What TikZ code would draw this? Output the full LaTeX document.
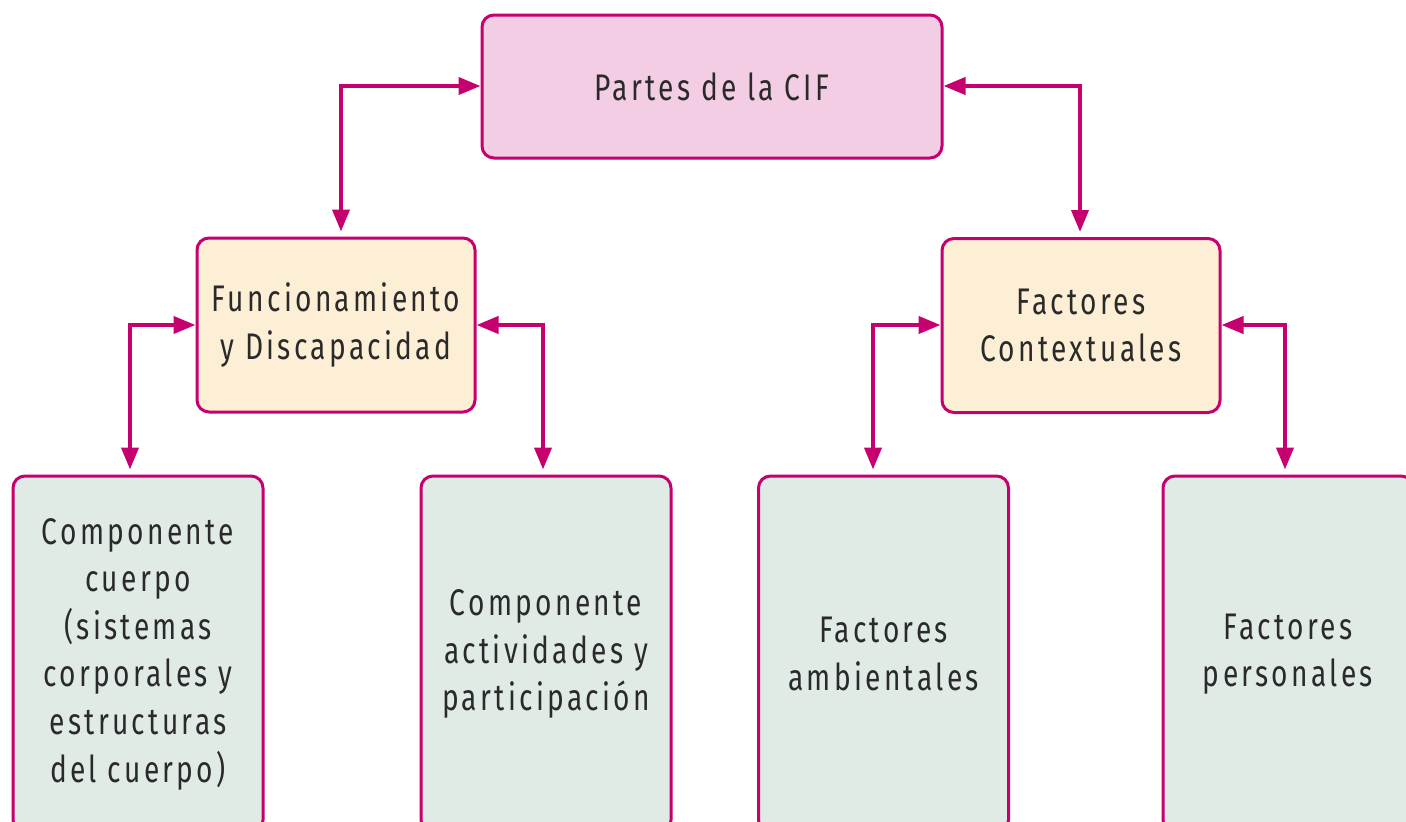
\documentclass[tikz,border=0pt]{standalone}
\usepackage{fontspec}
\setmainfont{Fira Sans}[FakeStretch=0.76,LetterSpace=9]
\usetikzlibrary{arrows.meta}
\definecolor{mag}{HTML}{C6006F}
\definecolor{pinkf}{HTML}{F3CDE3}
\definecolor{creamf}{HTML}{FDEFD5}
\definecolor{greenf}{HTML}{E1EBE6}
\definecolor{txt}{HTML}{2A2A2A}
\begin{document}
\begin{tikzpicture}[x=1pt,y=-1pt,
  box/.style={draw=mag, line width=3pt, rounded corners=12pt, align=center,
    text=txt, font=\fontsize{37}{47.6}\selectfont, inner sep=0pt},
  topbox/.style={box, fill=pinkf, minimum width=460pt, minimum height=143pt},
  midbox/.style={box, fill=creamf, minimum width=278pt, minimum height=174pt},
  lowbox/.style={box, fill=greenf, minimum width=250pt, minimum height=356pt},
  dbl/.style={draw=mag, line width=4pt, {Triangle[length=22pt,width=17pt]}-{Triangle[length=22pt,width=17pt]}}]
\useasboundingbox (0,0) rectangle (1406,822);
\clip (0,0) rectangle (1406,822);
\node[topbox] (top) at (712,86.5) {\raisebox{-3pt}{Partes de la CIF}};
\node[midbox] (fd) at (336,325) {Funcionamiento\\y Discapacidad};
\node[midbox] (fc) at (1081,325.5) {Factores\\Contextuales};
\node[lowbox] (b1) at (138,654) {Componente\\cuerpo\\(sistemas\\corporales y\\estructuras\\del cuerpo)};
\node[lowbox] (b2) at (546,654) {Componente\\actividades y\\participación};
\node[lowbox] (b3) at (883.5,654) {Factores\\ambientales};
\node[lowbox] (b4) at (1288,654) {Factores\\personales};
\coordinate (k1) at (341,86);
\coordinate (k2) at (1080,86);
\coordinate (k3) at (130,325);
\coordinate (k4) at (543,325);
\coordinate (k5) at (873,325);
\coordinate (k6) at (1285,325);
\draw[dbl, shorten >=5pt] (top.west |- k1) -- (k1) -- (k1 |- fd.north);
\draw[dbl, shorten >=5pt] (top.east |- k2) -- (k2) -- (k2 |- fc.north);
\draw[dbl, shorten >=5pt] (fd.west |- k3) -- (k3) -- (k3 |- b1.north);
\draw[dbl, shorten >=5pt] (fd.east |- k4) -- (k4) -- (k4 |- b2.north);
\draw[dbl, shorten >=5pt] (fc.west |- k5) -- (k5) -- (k5 |- b3.north);
\draw[dbl, shorten >=5pt] (fc.east |- k6) -- (k6) -- (k6 |- b4.north);
\end{tikzpicture}
\end{document}
